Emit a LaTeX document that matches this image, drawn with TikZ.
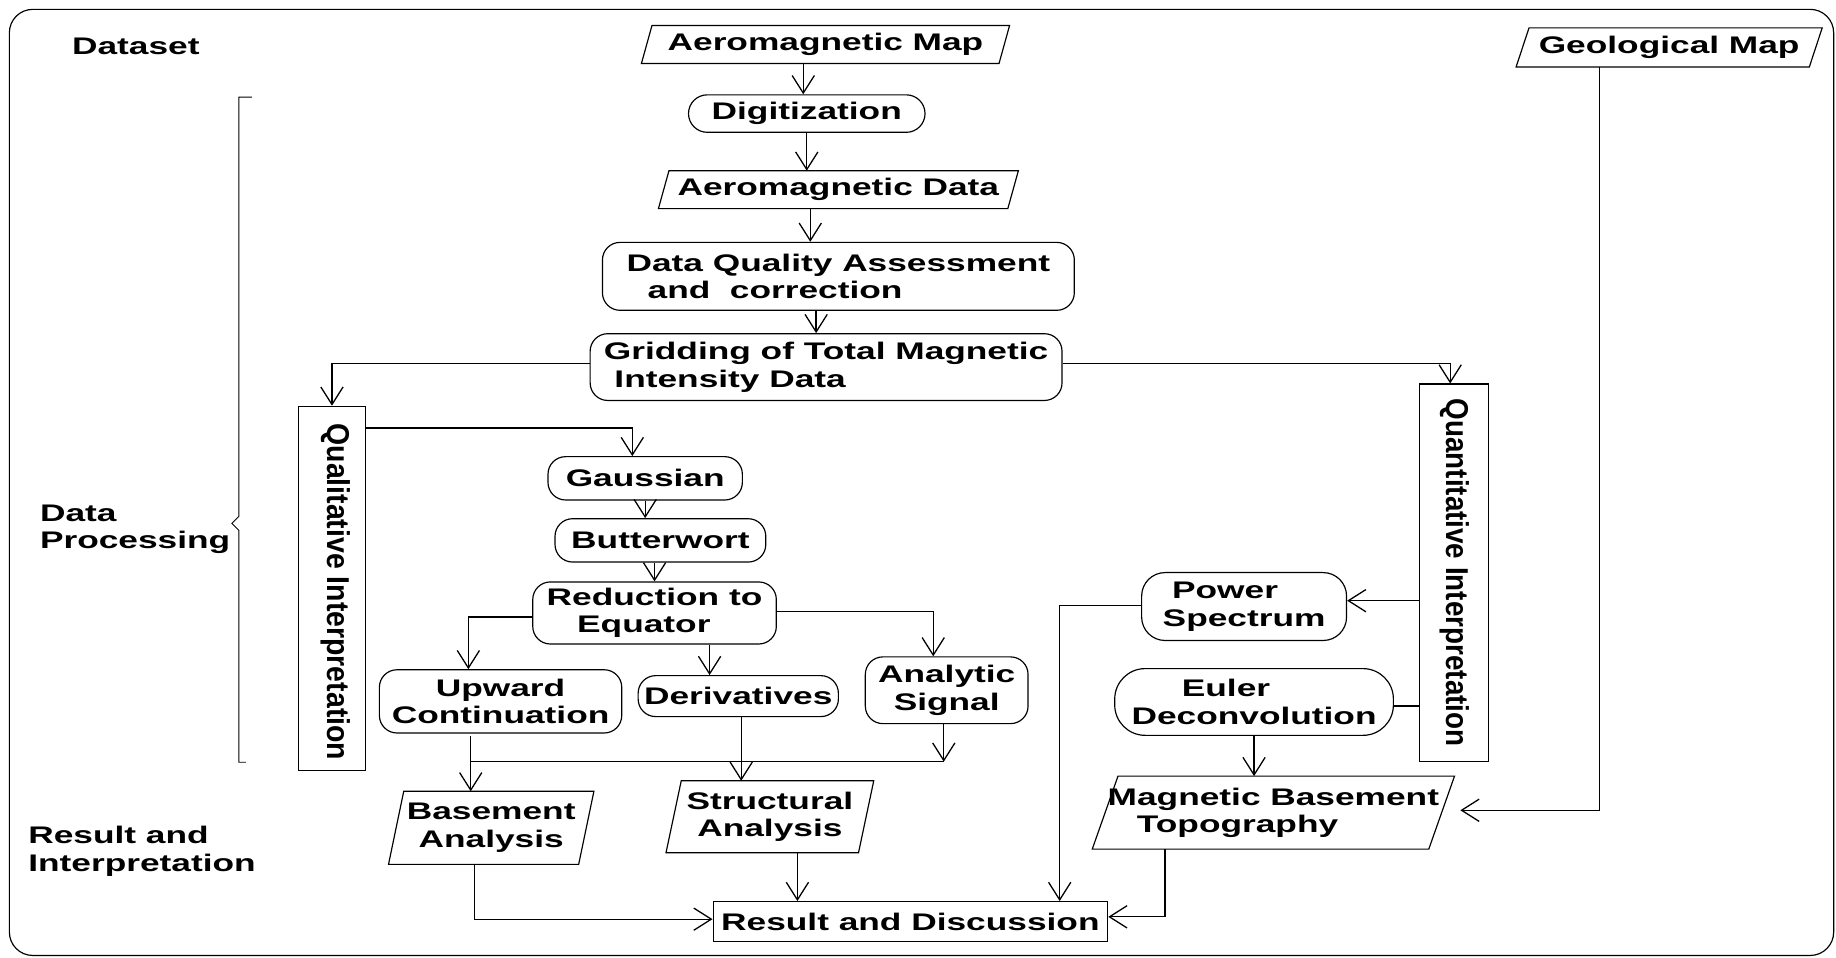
\documentclass[tikz,border=0pt]{standalone}
\usepackage{fontspec}
\usetikzlibrary{arrows.meta,calc}
\newfontfamily\wf{Liberation Sans}[FakeStretch=1.47]
\newfontfamily\nf{Liberation Sans}[FakeStretch=0.88]
\newfontfamily\qf{Liberation Sans}[FakeStretch=0.9]
\newcommand\paradraw[2]{\draw[box] (#1.south west) -- ($(#1.north west)+(#2,0)$) -- (#1.north east) -- ($(#1.south east)+(-#2,0)$) -- cycle;}
\tikzset{
  txt/.style={font=\wf\bfseries\fontsize{20.5}{23.5}\selectfont, inner sep=0pt},
  box/.style={line width=1pt},
  rbox/.style={txt, draw, line width=1pt, rounded corners=#1},
  rbox/.default=15pt,
  pbox/.style={txt},
  sbox/.style={txt, draw, line width=1pt},
  vtxt/.style={inner sep=0pt, rotate=-90},
  arr/.style={line width=1.1pt, -{Straight Barb[length=15pt,width=19pt]}},
  ln/.style={line width=1pt},
}
\begin{document}
\begin{tikzpicture}[x=1pt,y=-1pt]
\useasboundingbox (0,0) rectangle (1568,818);
% frame
\draw[line width=1pt, rounded corners=20pt] (8,8) rectangle (1566,816);
% side labels
\node[txt] (dataset) at (116,40) {Dataset};
\node[txt, align=left, anchor=west] (dproc) at (34,452) {Data\\Processing};
\node[txt, align=left, anchor=west] (resint) at (24,727) {Result and\\Interpretation};
% brace
\draw[line width=0.8pt] (215,83) -- (204,83) -- (204,441) -- (198,447) -- (204,453) -- (204,651) -- (210,651);

% nodes
\node[pbox, minimum width=314pt, minimum height=32pt] (amap) at (705,38) {Aeromagnetic Map};
\paradraw{amap}{9}
\node[rbox=16pt, minimum width=202pt, minimum height=32pt] (digit) at (689,97) {Digitization};
\node[pbox, minimum width=307pt, minimum height=32pt] (adata) at (716,162) {Aeromagnetic Data};
\paradraw{adata}{9}
\node[rbox, align=left, minimum width=403pt, minimum height=58pt] (dqa) at (716,236) {Data Quality Assessment\\\hspace*{18pt}and\ \ correction};
\node[rbox, align=left, minimum width=403pt, minimum height=57pt] (grid) at (705.5,313.5) {Gridding of Total Magnetic\\\hspace*{9pt}Intensity Data};

\node[draw, line width=1pt, minimum width=57pt, minimum height=311pt, inner sep=0pt] (qual) at (283.5,502.5) {};
\node[vtxt, font=\qf\bfseries\fontsize{27}{29}\selectfont] (qualtxt) at ($(qual.center)+(3,3)$) {Qualitative Interpretation};
\node[draw, line width=1pt, minimum width=59pt, minimum height=322pt, inner sep=0pt] (quant) at (1241.5,489) {};
\node[vtxt, font=\nf\bfseries\fontsize{27}{29}\selectfont] (quanttxt) at ($(quant.center)+(1,0)$) {Quantitative Interpretation};

\node[rbox, minimum width=166pt, minimum height=37pt] (gauss) at (551,408.5) {Gaussian};
\node[rbox, minimum width=180pt, minimum height=37pt] (butter) at (564,461.5) {Butterwort};
\node[rbox, align=left, minimum width=208pt, minimum height=53pt] (red) at (559,523.5) {Reduction to\\\hspace*{26pt}Equator};
\node[rbox, align=center, minimum width=207pt, minimum height=54pt] (upward) at (427.5,599) {Upward\\Continuation};
\node[rbox, minimum width=171pt, minimum height=35pt] (deriv) at (630.5,594.5) {Derivatives};
\node[rbox, align=center, minimum width=139pt, minimum height=57pt] (analytic) at (808.5,589.5) {Analytic\\Signal};
\node[pbox, align=center, minimum width=175pt, minimum height=62pt] (basement) at (419.5,707) {Basement\\Analysis};
\paradraw{basement}{13}
\node[pbox, align=center, minimum width=177pt, minimum height=61pt] (struct) at (657.5,697.5) {Structural\\Analysis};
\paradraw{struct}{13}
\node[sbox, minimum width=337pt, minimum height=34pt] (result) at (777.5,787) {Result and Discussion};

\node[rbox=20pt, align=left, minimum width=175pt, minimum height=58pt] (power) at (1062.5,518) {\hspace*{8pt}Power\\Spectrum};
\node[rbox=26pt, align=left, minimum width=238pt, minimum height=57pt] (euler) at (1071,599.5) {\hspace*{43pt}Euler\\Deconvolution};
\node[pbox, align=left, minimum width=309pt, minimum height=62pt] (mbt) at (1087.5,694) {Magnetic Basement\\\hspace*{25pt}Topography};
\paradraw{mbt}{22}
\node[pbox, minimum width=261pt, minimum height=33pt] (geo) at (1425.5,40.5) {Geological Map};
\paradraw{geo}{11}

% connectors
\draw[arr] ($(amap.south)+(-19,0)$) -- ($(digit.north)+(-3,0)$);
\draw[arr] (digit.south) -- ($(adata.north)+(-27,0)$);
\draw[arr] ($(adata.south)+(-24,0)$) -- ($(dqa.north)+(-24,0)$);
\draw[arr] ($(dqa.south)+(-19,0)$) -- ($(grid.north)+(-8.5,0)$);
\draw[arr] ($(grid.west)+(0,-3)$) -| (qual.north);
\draw[arr] ($(grid.east)+(0,-3)$) -| ($(quant.north)+(-3,0)$);
\draw[arr] ($(qual.north east)+(0,19)$) -| ($(gauss.north)+(-11,0)$);
\draw[arr] (gauss.south) -- ($(butter.north)+(-13,0)$);
\draw[arr] ($(butter.south)+(-5,0)$) -- (red.north);
\draw[arr] ($(red.west)+(0,3.5)$) -| ($(upward.north)+(-27.5,0)$);
\draw[arr] ($(red.east)+(0,-1.5)$) -| ($(analytic.north)+(-11.5,0)$);
\draw[arr] ($(red.south)+(47,0)$) -- ($(deriv.north)+(-24.5,0)$);
\coordinate (j1) at ($(upward.south)+(-25.5,24)$);
\coordinate (j2) at ($(analytic.south)+(-2.5,32)$);
\draw[arr] ($(upward.south)+(-25.5,2)$) -- ($(basement.north)+(-17.5,0)$);
\draw[ln] (j1) -- (j2);
\draw[arr] ($(analytic.south)+(-2.5,0)$) -- (j2);
\draw[arr] ($(deriv.south)+(2.5,0)$) -- ($(struct.north)+(-24.5,0)$);
\draw[arr] ($(basement.south)+(-14.5,0)$) |- ($(result.west)+(0,-2)$);
\draw[arr] ($(struct.south)+(23.5,0)$) -- ($(result.north)+(-96.5,0)$);
\draw[arr] ($(quant.west)+(0,24)$) -- ($(power.east)+(0,-5)$);
\draw[arr] ($(power.west)+(0,-1)$) -| ($(result.north)+(127.5,0)$);
\draw[ln] ($(euler.east)+(0,3.5)$) -- ($(quant.west)+(0,114)$);
\draw[arr] (euler.south) -- ($(mbt.north)+(-16.5,0)$);
\draw[arr] ($(mbt.south)+(-92.5,0)$) |- ($(result.east)+(0,-4)$);
\draw[arr] ($(geo.south)+(-59.5,0)$) |- ($(mbt.east)+(5,-2)$);
\end{tikzpicture}
\end{document}
